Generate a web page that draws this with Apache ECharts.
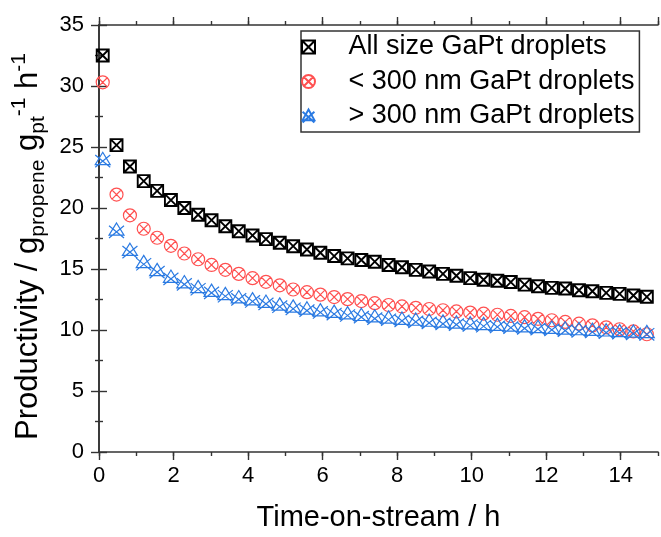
<!DOCTYPE html>
<html>
<head>
<meta charset="utf-8">
<script src="https://cdn.jsdelivr.net/npm/echarts@6/dist/echarts.min.js"></script>
<style>
  html, body { margin: 0; padding: 0; background: #fff; }
  #main { width: 661px; height: 537px; }
</style>
</head>
<body>
<div id="main"></div>
<script>
// time on stream (h)
var times = [0.1, 0.47, 0.83, 1.2, 1.56, 1.93, 2.29, 2.66, 3.02, 3.39,
  3.75, 4.12, 4.48, 4.85, 5.21, 5.58, 5.94, 6.31, 6.67, 7.04,
  7.4, 7.77, 8.13, 8.5, 8.86, 9.23, 9.59, 9.96, 10.32, 10.69,
  11.05, 11.42, 11.78, 12.15, 12.51, 12.88, 13.24, 13.61, 13.97, 14.34, 14.7];

// productivity values per series
var allSize = [32.5, 25.15, 23.4, 22.2, 21.4, 20.65, 20.0, 19.45, 19.0, 18.5,
  18.1, 17.75, 17.45, 17.15, 16.87, 16.6, 16.33, 16.06, 15.87, 15.74,
  15.6, 15.33, 15.14, 14.93, 14.8, 14.6, 14.45, 14.25, 14.12, 14.04,
  13.93, 13.72, 13.58, 13.45, 13.4, 13.26, 13.18, 13.04, 12.96, 12.83, 12.72];
var below300 = [30.3, 21.1, 19.4, 18.3, 17.56, 16.9, 16.27, 15.8, 15.33, 14.93,
  14.6, 14.25, 13.95, 13.66, 13.32, 13.1, 12.9, 12.7, 12.53, 12.37,
  12.2, 12.05, 11.93, 11.82, 11.72, 11.62, 11.52, 11.43, 11.34, 11.25,
  11.15, 11.05, 10.92, 10.8, 10.66, 10.52, 10.38, 10.22, 10.06, 9.88, 9.65];
var above300 = [23.95, 18.16, 16.5, 15.5, 14.85, 14.3, 13.85, 13.45, 13.15, 12.88,
  12.62, 12.45, 12.25, 12.02, 11.85, 11.7, 11.55, 11.42, 11.3, 11.17,
  11.05, 10.95, 10.86, 10.78, 10.7, 10.62, 10.55, 10.48, 10.42, 10.36,
  10.3, 10.24, 10.18, 10.12, 10.06, 10.0, 9.95, 9.9, 9.85, 9.8, 9.76];

var seriesNames = ['All size GaPt droplets', '< 300 nm GaPt droplets', '> 300 nm GaPt droplets'];

var font = 'Arial, "Liberation Sans", sans-serif';

var symSquareX = 'path://M0 0L10 0L10 10L0 10Z M0 0L10 10 M10 0L0 10';
var symCircleX = 'path://M10 5A5 5 0 1 1 0 5A5 5 0 1 1 10 5Z M1.5 1.5L8.5 8.5 M8.5 1.5L1.5 8.5';
var symTriX = 'path://M5 0L10 9L0 9Z M0 2L10 11 M10 2L0 11';

function pairs(xs, ys) {
  var out = [];
  for (var i = 0; i < xs.length; i++) out.push([xs[i], ys[i]]);
  return out;
}

var chart = echarts.init(document.getElementById('main'), null, { renderer: 'canvas' });

var axisLine = { show: true, lineStyle: { color: '#333', width: 1.6 } };
var tickStyle = { color: '#333', width: 1.4 };

option = {
  animation: false,
  backgroundColor: '#fff',
  grid: { left: 99, right: 3, top: 25, bottom: 79, containLabel: false },
  legend: {
    orient: 'vertical',
    left: 301,
    top: 31,
    padding: [1, 5, 1, 0],
    itemWidth: 70,
    itemHeight: 13,
    itemGap: 4.5,
    borderColor: '#333',
    borderWidth: 1.5,
    textStyle: { fontFamily: font, fontSize: 27, color: '#000', lineHeight: 30 },
    data: seriesNames
  },
  xAxis: [
    {
      type: 'value', position: 'bottom', min: 0, max: 15, interval: 2,
      axisLine: axisLine,
      axisTick: { show: true, length: 8, lineStyle: tickStyle },
      axisLabel: { fontFamily: font, fontSize: 22, color: '#000', margin: 13, showMaxLabel: false },
      splitLine: { show: false },
      name: 'Time-on-stream / h',
      nameLocation: 'middle',
      nameGap: 51,
      nameTextStyle: { fontFamily: font, fontSize: 29, color: '#000' }
    },
    {
      type: 'value', position: 'bottom', min: 0, max: 15, interval: 1,
      axisLine: { show: false },
      axisTick: { show: true, length: 4, lineStyle: tickStyle },
      axisLabel: { show: false },
      splitLine: { show: false }
    },
    {
      type: 'value', position: 'top', min: 0, max: 15, interval: 2,
      axisLine: axisLine,
      axisTick: { show: true, length: 8, lineStyle: tickStyle },
      axisLabel: { show: false },
      splitLine: { show: false }
    },
    {
      type: 'value', position: 'top', min: 0, max: 15, interval: 1,
      axisLine: { show: false },
      axisTick: { show: true, length: 4, lineStyle: tickStyle },
      axisLabel: { show: false },
      splitLine: { show: false }
    }
  ],
  yAxis: [
    {
      type: 'value', position: 'left', min: 0, max: 35, interval: 5,
      axisLine: axisLine,
      axisTick: { show: true, length: 8, lineStyle: tickStyle },
      minorTick: { show: true, splitNumber: 2, length: 4, lineStyle: tickStyle },
      axisLabel: { fontFamily: font, fontSize: 22, color: '#000', margin: 15 },
      splitLine: { show: false },
      name: '{m|Productivity / g}{sub|propene}{m| g}{sub|pt}{sup|-1}{m| h}{supEnd|-1}',
      nameLocation: 'middle',
      nameGap: 49,
      nameTextStyle: {
        fontFamily: font, color: '#000',
        rich: {
          m: { fontFamily: font, fontSize: 31, lineHeight: 40, verticalAlign: 'middle', color: '#000' },
          sub: { fontFamily: font, fontSize: 21, lineHeight: 20, verticalAlign: 'bottom', color: '#000' },
          sup: { fontFamily: font, fontSize: 21, lineHeight: 20, verticalAlign: 'top', color: '#000' },
          supEnd: { fontFamily: font, fontSize: 21, lineHeight: 20, verticalAlign: 'top', color: '#000', padding: [0, 16, 0, 0] }
        }
      }
    },
    {
      type: 'value', position: 'right', min: 0, max: 35, interval: 5,
      axisLine: axisLine,
      axisTick: { show: true, length: 8, lineStyle: tickStyle },
      minorTick: { show: true, splitNumber: 2, length: 4, lineStyle: tickStyle },
      axisLabel: { show: false },
      splitLine: { show: false }
    }
  ],
  series: [
    {
      name: seriesNames[0], type: 'scatter', silent: true,
      symbol: symSquareX, symbolSize: 12,
      itemStyle: { color: 'rgba(0,0,0,0)', borderColor: '#000', borderWidth: 1.9, opacity: 1 },
      data: pairs(times, allSize)
    },
    {
      name: seriesNames[1], type: 'scatter', silent: true,
      symbol: symCircleX, symbolSize: 13,
      itemStyle: { color: 'rgba(0,0,0,0)', borderColor: '#ff5050', borderWidth: 1.2, opacity: 1 },
      data: pairs(times, below300)
    },
    {
      name: seriesNames[2], type: 'scatter', silent: true,
      symbol: symTriX, symbolSize: 15,
      itemStyle: { color: 'rgba(0,0,0,0)', borderColor: '#2a7ae2', borderWidth: 1.2, opacity: 1 },
      data: pairs(times, above300)
    }
  ]
};
chart.setOption(option);
</script>
</body>
</html>
